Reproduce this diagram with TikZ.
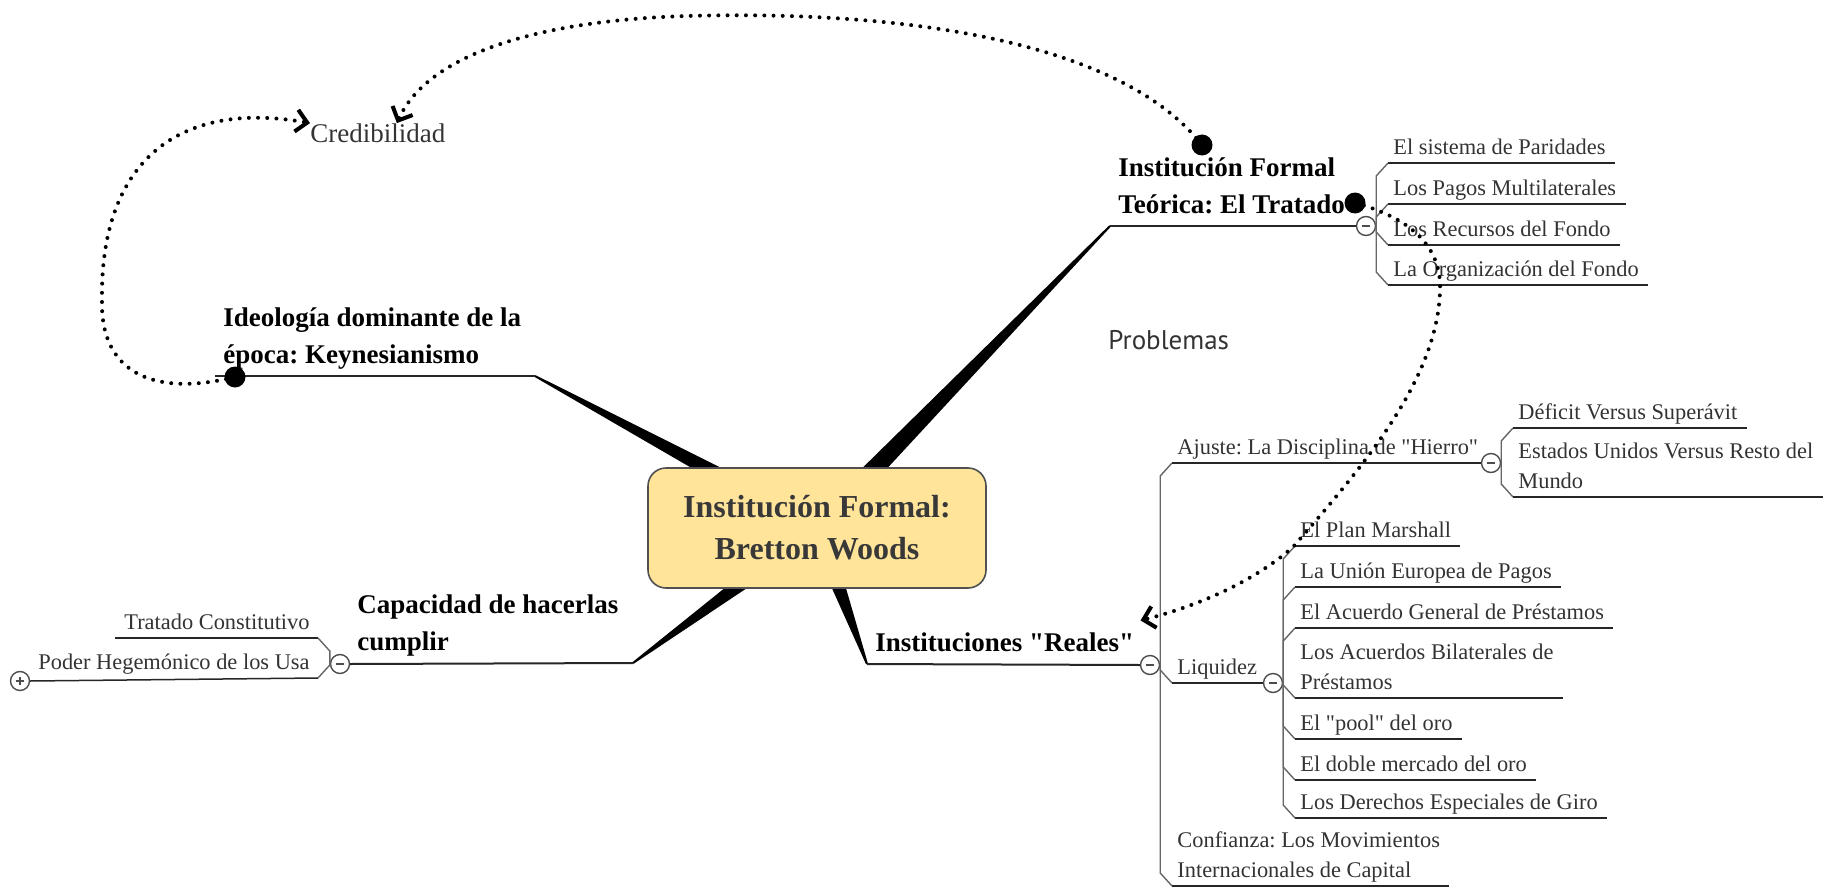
\documentclass[tikz,border=0pt]{standalone}
\usepackage{fontspec}
\setmainfont{Liberation Serif}[Ligatures=TeXOff]
\newfontfamily\probfont{PT Sans}
\usetikzlibrary{positioning,arrows.meta,calc}

\definecolor{inkgray}{HTML}{333333}
\definecolor{boxfill}{HTML}{FFE49A}
\definecolor{boxline}{HTML}{505050}

% tapered branch from the hub to an elbow
\newcommand\branchwedge[2]{%
  \fill ($(#1)!5.5pt!90:(#2)$) -- ($(#2)!0.5pt!-90:(#1)$) -- ($(#2)!0.5pt!90:(#1)$) -- ($(#1)!5.5pt!-90:(#2)$) -- cycle;}
% line under a leaf text
\newcommand\underleaf[1]{\draw[leafline] ([xshift=-2.5pt]#1.south west) -- ([xshift=4.5pt]#1.south east);}
% knob -> bar -> slant -> leaf
\newcommand\twig[3]{\draw[twigline] (#1.east) -- ($(#1.east |- #2.south west)+(0,#3)$) -- ([xshift=-2.5pt]#2.south west);}

\frenchspacing
\begin{document}
\begin{tikzpicture}[x=0.5pt,y=-0.5pt,
  hubbox/.style={draw=boxline,line width=0.8pt,fill=boxfill,rounded corners=9pt,
    minimum width=169pt,minimum height=60pt,align=center,text=black!78,
    font=\fontsize{16}{21}\selectfont\bfseries},
  topic/.style={anchor=south west,inner sep=0pt,text depth=6pt,align=left,
    font=\fontsize{13.5}{18.5}\selectfont\bfseries},
  leaf/.style={anchor=south west,inner sep=0pt,text depth=4.25pt,align=left,
    text=inkgray,font=\fontsize{11.2}{15}\selectfont},
  topicline/.style={line width=1pt,draw=black!85},
  leafline/.style={line width=0.75pt,draw=black!85},
  twigline/.style={line width=0.7pt,draw=black!60},
  minusknob/.style={circle,draw=black!70,fill=white,line width=0.7pt,minimum size=9.5pt,inner sep=0pt,
    path picture={\draw[line width=0.9pt] ([xshift=-2.2pt]path picture bounding box.center) -- ([xshift=2.2pt]path picture bounding box.center);}},
  plusknob/.style={minusknob,
    path picture={\draw[line width=0.8pt] ([xshift=-2.2pt]path picture bounding box.center) -- ([xshift=2.2pt]path picture bounding box.center)
      ([yshift=-2.2pt]path picture bounding box.center) -- ([yshift=2.2pt]path picture bounding box.center);}},
  blob/.style={circle,fill=black,minimum size=10.5pt,inner sep=0pt},
  assoc/.style={line width=2pt,dash pattern=on 0pt off 4.6pt,line cap=round,
    -{Straight Barb[length=5.5pt,width=11pt,line width=2pt]}}]
  \useasboundingbox (0,0) rectangle (1825,888);

  % main branches
  \coordinate (hub) at (817,528);
  \coordinate (ie) at (535,376);
  \coordinate (te) at (1110,226);
  \coordinate (ce) at (633,663);
  \coordinate (re) at (867,664);
  \foreach \e in {ie,te,ce,re} \branchwedge{hub}{\e};
  \node[hubbox] (ctr) at (hub) {Institución Formal:\\Bretton Woods};

  \node[topic] (ideo) at (223,376) {Ideología dominante de la\\época: Keynesianismo};
  \node[topic] (trat) at (1118,226) {Institución Formal\\Teórica: El Tratado};
  \node[topic] (capa) at (357,663) {Capacidad de hacerlas\\cumplir};
  \node[topic] (real) at (875,664) {Instituciones "Reales"};

  \node[minusknob] (tk) at (1366,226) {};
  \node[minusknob] (ck) at (340,664) {};
  \node[minusknob] (rk) at (1150,665) {};
  \node[minusknob] (ajk) at (1491,463) {};
  \node[minusknob] (lqk) at (1273,683) {};
  \node[plusknob] (pk) at (20,681) {};

  \draw[topicline] ([xshift=-4pt]ideo.south west) -- (ie);
  \draw[topicline] (te) -- (tk.west);
  \draw[topicline] (ck.east) -- (ce);
  \draw[topicline] (re) -- (rk.west);

  % El Tratado
  \node[leaf] (par) at (1393,163) {El sistema de Paridades};
  \node[leaf] (pag) at (1393,204) {Los Pagos Multilaterales};
  \node[leaf] (rec) at (1393,245) {Los Recursos del Fondo};
  \node[leaf] (org) at (1393,285) {La Organización del Fondo};
  \twig{tk}{par}{13} \twig{tk}{pag}{13} \twig{tk}{rec}{-13} \twig{tk}{org}{-13}
  \foreach \c in {par,pag,rec,org} \underleaf{\c};

  % Instituciones reales
  \node[leaf] (aju) at (1177,463) {Ajuste: La Disciplina de "Hierro"};
  \node[leaf] (liq) at (1177,683) {Liquidez};
  \node[leaf] (conf) at (1177,886) {Confianza: Los Movimientos\\Internacionales de Capital};
  \twig{rk}{aju}{13} \twig{rk}{liq}{-13} \twig{rk}{conf}{-13}
  \draw[leafline] ([xshift=-2.5pt]aju.south west) -- (ajk.west);
  \draw[leafline] ([xshift=-2.5pt]liq.south west) -- (lqk.west);
  \underleaf{conf}

  \node[leaf] (dvs) at (1518,428) {Déficit Versus Superávit};
  \node[leaf] (eur) at (1518,497) {Estados Unidos Versus Resto del\\Mundo};
  \twig{ajk}{dvs}{13} \twig{ajk}{eur}{-13}
  \underleaf{dvs} \underleaf{eur}

  \node[leaf] (mar) at (1300,546) {El Plan Marshall};
  \node[leaf] (uep) at (1300,587) {La Unión Europea de Pagos};
  \node[leaf] (agp) at (1300,628) {El Acuerdo General de Préstamos};
  \node[leaf] (abp) at (1300,698) {Los Acuerdos Bilaterales de\\Préstamos};
  \node[leaf] (poo) at (1300,739) {El "pool" del oro};
  \node[leaf] (dmo) at (1300,780) {El doble mercado del oro};
  \node[leaf] (deg) at (1300,818) {Los Derechos Especiales de Giro};
  \foreach \c in {mar,uep,agp} \twig{lqk}{\c}{13};
  \foreach \c in {abp,poo,dmo,deg} \twig{lqk}{\c}{-13};
  \foreach \c in {mar,uep,agp,abp,poo,dmo,deg} \underleaf{\c};

  % Capacidad
  \node[leaf,anchor=south east] (tco) at (310,638) {Tratado Constitutivo};
  \node[leaf,anchor=south east] (phu) at (310,678) {Poder Hegemónico de los Usa};
  \draw[twigline] (ck.west) -- ($(ck.west |- tco.south east)+(0,13)$) -- ([xshift=4pt]tco.south east);
  \draw[twigline] (ck.west) -- ($(ck.west |- phu.south east)+(0,-13)$) -- ([xshift=4pt]phu.south east);
  \draw[leafline] ([xshift=-4.5pt]tco.south west) -- ([xshift=4pt]tco.south east);
  \draw[leafline] (pk.east) -- ([xshift=4pt]phu.south east);

  % free texts
  \node[anchor=west,inner sep=0pt,text=inkgray,font=\fontsize{13.5}{16}\selectfont] (cred) at (310,133) {Credibilidad};
  \node[anchor=west,inner sep=0pt,text=inkgray,font=\probfont\fontsize{13.5}{16}\selectfont] (prob) at (1108,340) {Problemas};

  % dotted relations
  \coordinate (idot) at (235,377);
  \coordinate (tdot) at (1202,145);
  \coordinate (edot) at (1355,203);
  \draw[assoc] (idot) .. controls (150,398) and (100,370) .. (102,300)
    .. controls (100,160) and (180,100) .. (cred.north west);
  \draw[assoc] (tdot) .. controls (1120,40) and (900,10) .. (687,16)
    .. controls (550,20) and (430,50) .. ([xshift=9.5pt]cred.north);
  \draw[assoc] (edot) .. controls (1400,215) and (1442,240) .. (1440,290)
    .. controls (1438,380) and (1360,470) .. (1293,547)
    .. controls (1250,585) and (1190,608) .. ([xshift=3pt,yshift=6pt]real.north east);
  \node[blob] at (idot) {};
  \node[blob] at (tdot) {};
  \node[blob] at (edot) {};
\end{tikzpicture}
\end{document}
